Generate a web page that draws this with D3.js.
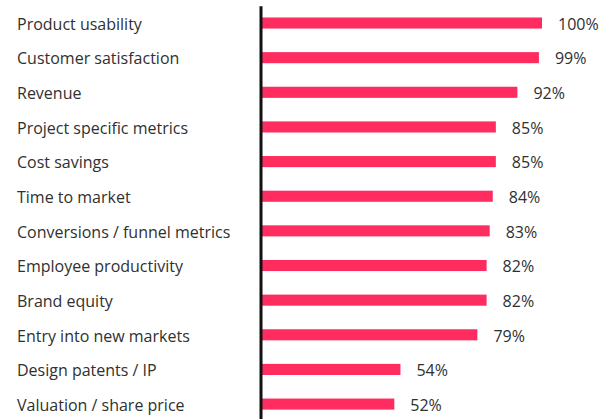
<!DOCTYPE html>
<html>
<head>
<meta charset="utf-8">
<script src="https://cdn.jsdelivr.net/npm/d3@7"></script>
<style>
  html, body { margin: 0; padding: 0; background: #fff; }
  svg text { font-family: "Open Sans", "Noto Sans", sans-serif; fill: #303030; }
</style>
</head>
<body>
<div id="chart"></div>
<script>
  // categories, top to bottom
  var categories = [
    "Product usability",
    "Customer satisfaction",
    "Revenue",
    "Project specific metrics",
    "Cost savings",
    "Time to market",
    "Conversions / funnel metrics",
    "Employee productivity",
    "Brand equity",
    "Entry into new markets",
    "Design patents / IP",
    "Valuation / share price"
  ];
  // percent values
  var values = [100, 99, 92, 85, 85, 84, 83, 82, 82, 79, 54, 52];

  var width = 616, height = 419;
  var axisX = 260.5;

  var data = categories.map(function(c, i) {
    return { name: c, value: values[i] };
  });

  var svg = d3.select("#chart")
    .append("svg")
    .attr("width", width)
    .attr("height", height);

  var y = d3.scaleBand()
    .domain(categories)
    .range([5.7, 421.4])
    .paddingInner(0.68)
    .paddingOuter(0.34);

  // bars don't start from zero in the source, domain start fitted to bar lengths
  var x = d3.scaleLinear()
    .domain([9, 100])
    .range([axisX + 1.5, 542]);

  // bars
  svg.selectAll("rect.bar")
    .data(data)
    .enter().append("rect")
    .attr("class", "bar")
    .attr("x", x(9))
    .attr("y", function(d) { return y(d.name); })
    .attr("width", function(d) { return x(d.value) - x(9); })
    .attr("height", y.bandwidth())
    .attr("fill", "#ff2c5f");

  // vertical axis line
  var axis = svg.append("g")
    .attr("transform", "translate(" + axisX + ",0)")
    .call(d3.axisLeft(y).tickSize(0).tickFormat(""));
  axis.select(".domain").attr("stroke", "#111").attr("stroke-width", 3);

  // category labels
  svg.selectAll("text.cat")
    .data(data)
    .enter().append("text")
    .attr("class", "cat")
    .attr("x", 17)
    .attr("y", function(d) { return y(d.name) + y.bandwidth() / 2 + 6.8; })
    .style("font-size", "16px")
    .text(function(d) { return d.name; });

  // value labels
  svg.selectAll("text.val")
    .data(data)
    .enter().append("text")
    .attr("class", "val")
    .attr("x", function(d) { return x(d.value) + 16; })
    .attr("y", function(d) { return y(d.name) + y.bandwidth() / 2 + 6.8; })
    .style("font-size", "16px")
    .text(function(d) { return d.value + "%"; });
</script>
</body>
</html>
